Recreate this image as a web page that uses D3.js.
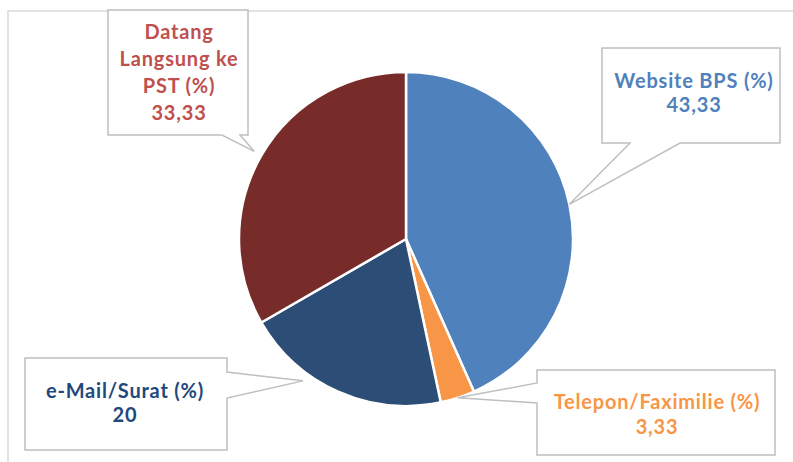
<!DOCTYPE html>
<html>
<head>
<meta charset="utf-8">
<script src="https://cdn.jsdelivr.net/npm/d3@7"></script>
<style>
  body { margin: 0; background: #fff; }
  text { font-family: Lato, "Open Sans", sans-serif; font-weight: bold; }
</style>
</head>
<body>
<svg id="chart"></svg>
<script>
var categories = ['Website BPS (%)', 'Telepon/Faximilie (%)', 'e-Mail/Surat (%)', 'Datang Langsung ke PST (%)'];
var values = [43.33, 3.33, 20, 33.33];
var valueLabels = ['43,33', '3,33', '20', '33,33'];
var labelLines = [
  ['Website BPS (%)'],
  ['Telepon/Faximilie (%)'],
  ['e-Mail/Surat (%)'],
  ['Datang', 'Langsung ke', 'PST (%)']
];
var sliceColors = ['#4f81bd', '#f79646', '#2c4d75', '#772c2a'];
var textColors = ['#4f81bd', '#f79646', '#1f497d', '#c0504d'];

var width = 793;
var height = 462;
var cx = 406, cy = 239, radius = 167;

var svg = d3.select('#chart')
  .attr('width', width)
  .attr('height', height);

// chart frame
svg.append('rect')
  .attr('x', 8).attr('y', 11)
  .attr('width', 800).attr('height', 470)
  .attr('fill', 'none')
  .attr('stroke', '#d9d9d9')
  .attr('stroke-width', 1.5);

var pie = d3.pie().sort(null).value(function(d) { return d; });
var arc = d3.arc().innerRadius(0).outerRadius(radius);
var arcs = pie(values);

var g = svg.append('g').attr('transform', 'translate(' + cx + ',' + cy + ')');

g.selectAll('path')
  .data(arcs)
  .enter().append('path')
    .attr('d', arc)
    .attr('fill', function(d, i) { return sliceColors[i]; })
    .attr('stroke', '#fff')
    .attr('stroke-width', 2.5)
    .attr('stroke-linejoin', 'round');

// callout boxes: box, side of the pointer, pointer base, tip radius/angle tweak
var callouts = [
  { box: [602, 48, 780, 143], side: 'bottom', base: [630, 680], r: 1.0, da: 0, tx: 694, ty: [88, 112], lh: 24 },
  { box: [537, 370, 775, 455], side: 'left', base: [383, 403], r: 1.0, da: 0, tx: 657, ty: [409, 434], lh: 25 },
  { box: [25, 358, 227, 450], side: 'right', base: [372, 398], r: 1.05, da: 12, tx: 125, ty: [398, 422], lh: 24 },
  { box: [108, 10, 248, 135], side: 'bottom', base: [222, 240], r: 1.05, da: 0, tx: 179, ty: [39, 119], lh: 27 }
];

function calloutPath(c, tip) {
  var x0 = c.box[0], y0 = c.box[1], x1 = c.box[2], y1 = c.box[3];
  var p = d3.path();
  p.moveTo(x0, y0);
  p.lineTo(x1, y0);
  if (c.side == 'right') {
    p.lineTo(x1, c.base[0]);
    p.lineTo(tip[0], tip[1]);
    p.lineTo(x1, c.base[1]);
  }
  p.lineTo(x1, y1);
  if (c.side == 'bottom') {
    p.lineTo(c.base[1], y1);
    p.lineTo(tip[0], tip[1]);
    p.lineTo(c.base[0], y1);
  }
  p.lineTo(x0, y1);
  if (c.side == 'left') {
    p.lineTo(x0, c.base[1]);
    p.lineTo(tip[0], tip[1]);
    p.lineTo(x0, c.base[0]);
  }
  p.closePath();
  return p.toString();
}

arcs.forEach(function(d, i) {
  var c = callouts[i];
  var a = (d.startAngle + d.endAngle) / 2 + c.da * Math.PI / 180;
  var tip = [cx + radius * c.r * Math.sin(a), cy - radius * c.r * Math.cos(a)];

  svg.append('path')
    .attr('d', calloutPath(c, tip))
    .attr('fill', '#fff')
    .attr('stroke', '#bfbfbf')
    .attr('stroke-width', 1.5)
    .attr('stroke-linejoin', 'miter');

  var lines = labelLines[i].concat([valueLabels[i]]);
  var txt = svg.append('text')
    .attr('text-anchor', 'middle')
    .attr('fill', textColors[i])
    .style('font-size', '20px')
    .style('letter-spacing', '0.8px');
  lines.forEach(function(t, k) {
    txt.append('tspan')
      .attr('x', c.tx)
      .attr('y', c.ty[0] + k * c.lh)
      .text(t);
  });
});
</script>
</body>
</html>
